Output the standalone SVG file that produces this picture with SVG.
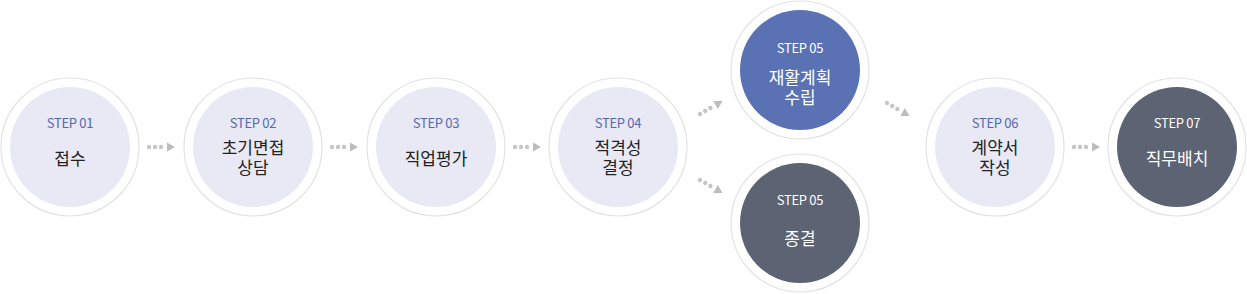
<svg xmlns="http://www.w3.org/2000/svg" width="1247" height="294" viewBox="0 0 1247 294">
<style>
.outer{fill:#fff;stroke:#e2e2e2;stroke-width:1.2}
.light{fill:#e9e9f5}
.blue{fill:#5a72b4}
.dark{fill:#5c6373}
text{font-family:"Noto Sans CJK KR","Noto Sans",sans-serif;text-anchor:middle}
.step{font-size:13px;fill:#5468b0;letter-spacing:-0.3px}
.stepw{font-size:13px;fill:#fff;letter-spacing:-0.3px}
.lbl{font-size:17px;fill:#222}
.lblw{font-size:17px;fill:#fff}
.dot{fill:#c6c6c6}
.tri{fill:#bcbcbc}
</style>
<defs>
<g id="arr">
<circle class="dot" cx="0" cy="0" r="2.2"/>
<circle class="dot" cx="6" cy="0" r="2.2"/>
<circle class="dot" cx="12" cy="0" r="2.2"/>
<polygon class="tri" points="18,-4.5 26,0 18,4.5"/>
</g>
</defs>
<g id="connectors">
<use href="#arr" transform="translate(149,147)"/>
<use href="#arr" transform="translate(332,147)"/>
<use href="#arr" transform="translate(515,147)"/>
<use href="#arr" transform="translate(700,114) rotate(-30)"/>
<use href="#arr" transform="translate(700,180) rotate(30)"/>
<use href="#arr" transform="translate(887,103) rotate(30)"/>
<use href="#arr" transform="translate(1074,147)"/>
</g>
<g id="step01">
<circle class="outer" cx="70" cy="147" r="69"/>
<circle class="light" cx="70" cy="147" r="60"/>
<text class="step" x="70" y="128">STEP 01</text>
<text class="lbl" x="70" y="165">접수</text>
</g>
<g id="step02">
<circle class="outer" cx="253" cy="147" r="69"/>
<circle class="light" cx="253" cy="147" r="60"/>
<text class="step" x="253" y="128">STEP 02</text>
<text class="lbl" x="253" y="154">초기면접</text>
<text class="lbl" x="253" y="174">상담</text>
</g>
<g id="step03">
<circle class="outer" cx="436" cy="147" r="69"/>
<circle class="light" cx="436" cy="147" r="60"/>
<text class="step" x="436" y="128">STEP 03</text>
<text class="lbl" x="436" y="165">직업평가</text>
</g>
<g id="step04">
<circle class="outer" cx="618" cy="147" r="69"/>
<circle class="light" cx="618" cy="147" r="60"/>
<text class="step" x="618" y="128">STEP 04</text>
<text class="lbl" x="618" y="154">적격성</text>
<text class="lbl" x="618" y="174">결정</text>
</g>
<g id="step05a">
<circle class="outer" cx="800" cy="70" r="69"/>
<circle class="blue" cx="800" cy="70" r="60"/>
<text class="stepw" x="800" y="53">STEP 05</text>
<text class="lblw" x="800" y="84">재활계획</text>
<text class="lblw" x="800" y="104">수립</text>
</g>
<g id="step05b">
<circle class="outer" cx="800" cy="223" r="69"/>
<circle class="dark" cx="800" cy="223" r="60"/>
<text class="stepw" x="800" y="205">STEP 05</text>
<text class="lblw" x="800" y="245">종결</text>
</g>
<g id="step06">
<circle class="outer" cx="995" cy="147" r="69"/>
<circle class="light" cx="995" cy="147" r="60"/>
<text class="step" x="995" y="128">STEP 06</text>
<text class="lbl" x="995" y="154">계약서</text>
<text class="lbl" x="995" y="174">작성</text>
</g>
<g id="step07">
<circle class="outer" cx="1177" cy="147" r="69"/>
<circle class="dark" cx="1177" cy="147" r="60"/>
<text class="stepw" x="1177" y="128">STEP 07</text>
<text class="lblw" x="1177" y="165">직무배치</text>
</g>
</svg>
